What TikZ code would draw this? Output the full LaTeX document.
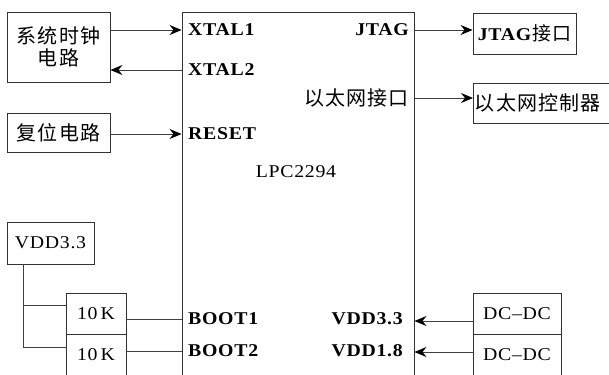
\documentclass[tikz,border=0pt]{standalone}
\usepackage{fontspec}
\setmainfont{Liberation Serif}[FakeStretch=1.1,LetterSpace=4]
\newfontfamily\cjk{Noto Sans CJK SC}[LetterSpace=6]
\usetikzlibrary{arrows.meta}
\begin{document}
\begin{tikzpicture}[x=1pt,y=-1pt,
  box/.style={draw=black!80,line width=0.9pt,rectangle,inner sep=0pt,align=center},
  pin/.style={inner sep=0pt,font=\fontsize{18}{20}\selectfont\bfseries},
  zh/.style={font=\fontsize{20}{24}\selectfont\cjk},
  en/.style={font=\fontsize{18}{20}\selectfont},
  wire/.style={draw=black!75,line width=0.9pt},
  arr/.style={wire,-{Stealth[length=12pt,width=10pt,inset=4pt,color=black]}}]
\useasboundingbox (0,0) rectangle (609,374);
\clip (0,0) rectangle (609,374);
% main chip
\node[box,minimum width=232,minimum height=388] (mcu) at (298,206) {};
\node[en] (name) at (296,172) {LPC2294};
% left pins
\node[pin,anchor=west] (xtal1) at (188,30) {XTAL1};
\node[pin,anchor=west] (xtal2) at (188,70) {XTAL2};
\node[pin,anchor=west] (reset) at (188,134) {RESET};
\node[pin,anchor=west] (boot1) at (188,319) {BOOT1};
\node[pin,anchor=west] (boot2) at (188,351) {BOOT2};
% right pins
\node[pin,anchor=east] (jtag) at (409,30) {JTAG};
\node[zh,anchor=east,inner sep=0pt] (eth) at (409,98) {以太网接口};
\node[pin,anchor=east] (vdd33) at (403,319) {VDD3.3};
\node[pin,anchor=east] (vdd18) at (403,351) {VDD1.8};
% left boxes
\node[box,zh,minimum width=103,minimum height=70] (clk) at (58.5,47) {系统时钟\\[-2pt]电路};
\node[box,zh,minimum width=103,minimum height=39] (rst) at (58.5,132.5) {复位电路};
\node[box,en,minimum width=87,minimum height=42] (vdd) at (50.5,243) {VDD3.3};
\node[box,en,minimum width=60,minimum height=41] (r1) at (96,313.5) {10\,K};
\node[box,en,minimum width=60,minimum height=41] (r2) at (96,354.5) {10\,K};
% right boxes
\node[box,font=\fontsize{18}{20}\selectfont,minimum width=103,minimum height=41] (jbox) at (524.5,33.5) {\textbf{JTAG}{\cjk\fontsize{19}{20}\selectfont 接口}};
\node[box,zh,minimum width=147,minimum height=40,anchor=west,text width=140,align=left] (ebox) at (473,103) {\hspace{-2pt}以太网控制器};
\node[box,en,minimum width=88,minimum height=41] (dc1) at (517,313.5) {DC--DC};
\node[box,en,minimum width=88,minimum height=41] (dc2) at (517,354.5) {DC--DC};
% connectors
\draw[arr] (clk.east|-xtal1.west) -- (mcu.west|-xtal1.west);
\draw[arr] (mcu.west|-xtal2.west) -- (clk.east|-xtal2.west);
\draw[arr] (rst.east|-reset.west) -- (mcu.west|-reset.west);
\draw[arr] (mcu.east|-jtag.east) -- (jbox.west|-jtag.east);
\draw[arr] (mcu.east|-eth.east) -- (ebox.west|-eth.east);
\coordinate (vtap) at ([xshift=-27.5pt]vdd.south);
\draw[wire] (vtap) -- (vtap|-0,347) -- (r2.west|-0,347);
\draw[wire] (vtap|-0,305) -- (r1.west|-0,305);
\draw[wire] (r1.east|-boot1.west) -- (mcu.west|-boot1.west);
\draw[wire] (r2.east|-boot2.west) -- (mcu.west|-boot2.west);
\draw[arr] (dc1.west|-0,321) -- (mcu.east|-0,321);
\draw[arr] (dc2.west|-0,352) -- (mcu.east|-0,352);
\end{tikzpicture}
\end{document}
